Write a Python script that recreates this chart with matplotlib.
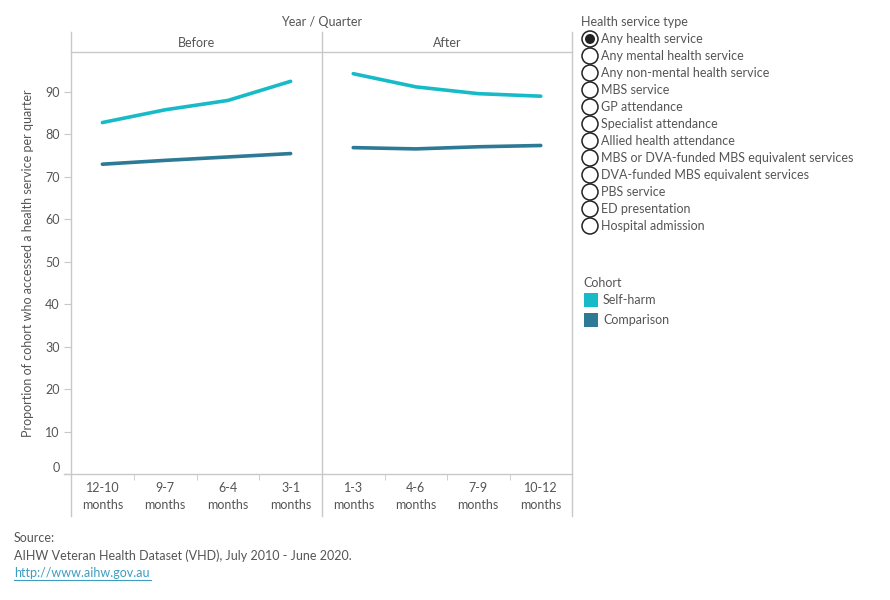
import matplotlib.pyplot as plt
from matplotlib.lines import Line2D
from matplotlib.patches import Ellipse, Rectangle

# data
periods = ["Before", "After"]
before_labels = ["12-10\nmonths", "9-7\nmonths", "6-4\nmonths", "3-1\nmonths"]
after_labels = ["1-3\nmonths", "4-6\nmonths", "7-9\nmonths", "10-12\nmonths"]
self_harm_before = [82.7, 85.7, 87.9, 92.4]
self_harm_after = [94.2, 91.1, 89.5, 88.9]
comparison_before = [72.9, 73.8, 74.6, 75.4]
comparison_after = [76.8, 76.5, 77.0, 77.3]
service_types = [
    "Any health service", "Any mental health service", "Any non-mental health service",
    "MBS service", "GP attendance", "Specialist attendance", "Allied health attendance",
    "MBS or DVA-funded MBS equivalent services", "DVA-funded MBS equivalent services",
    "PBS service", "ED presentation", "Hospital admission",
]
cohorts = ["Self-harm", "Comparison"]
yticks = list(range(0, 100, 10))

c_self = "#17BBC8"
c_comp = "#2D7A96"
c_text = "#555555"
c_grid = "#C8C8C8"

plt.rcParams["font.family"] = ["Lato", "DejaVu Sans"]

W, H = 890, 600
fig = plt.figure(figsize=(W / 100, H / 100), dpi=100)


def fx(x):
    return x / W


def fy(y):
    return 1 - y / H


def vline(x, y0, y1):
    fig.add_artist(Line2D([fx(x), fx(x)], [fy(y0), fy(y1)], color=c_grid, lw=1))


def hline(y, x0, x1, color=c_grid, lw=1):
    fig.add_artist(Line2D([fx(x0), fx(x1)], [fy(y), fy(y)], color=color, lw=lw))


left, mid, right = 71, 322, 572
top, bottom = 52, 474
panels = [
    (left, mid, before_labels, self_harm_before, comparison_before),
    (mid, right, after_labels, self_harm_after, comparison_after),
]

for i, (x0, x1, labels, sh, cp) in enumerate(panels):
    ax = fig.add_axes([fx(x0), fy(bottom), fx(x1 - x0), (bottom - top) / H])
    xs = range(len(labels))
    ax.plot(xs, sh, color=c_self, lw=2.6, solid_capstyle="round")
    ax.plot(xs, cp, color=c_comp, lw=2.6, solid_capstyle="round")
    ax.set_xlim(-0.5, len(labels) - 0.5)
    ax.set_ylim(0, 99.3)
    for s in ax.spines.values():
        s.set_visible(False)
    ax.set_xticks(list(xs))
    ax.set_xticklabels(labels, fontsize=9, color=c_text, linespacing=1.5)
    ax.tick_params(axis="x", length=0, pad=6)
    ax.set_xticks([k + 0.5 for k in range(len(labels) - 1)], minor=True)
    ax.tick_params(axis="x", which="minor", length=4, color=c_grid, direction="out")
    if i == 0:
        ax.set_yticks(yticks)
        ax.set_yticklabels([str(v) for v in yticks], fontsize=9, color=c_text)
        ax.tick_params(axis="y", length=5, color=c_grid, pad=3)
        ax.get_yticklabels()[0].set_va("bottom")
        ax.set_ylabel("Proportion of cohort who accessed a health service per quarter",
                      fontsize=9, color=c_text, labelpad=8)
    else:
        ax.set_yticks([])
    ax.patch.set_alpha(0)
    fig.text(fx((x0 + x1) / 2), fy(43), periods[i], ha="center", va="center",
             fontsize=9, color=c_text)

# pane borders
for x in (left, mid, right):
    vline(x, 32, 516)
hline(top, left, right)
hline(bottom, 64, right)

fig.text(fx((left + right) / 2), fy(22), "Year / Quarter", ha="center", va="center",
         fontsize=9, color=c_text)

# health service type legend (radio buttons)
fig.text(fx(581), fy(22), "Health service type", ha="left", va="center",
         fontsize=9, color=c_text)
for k, name in enumerate(service_types):
    y = 39 + k * 17
    fig.add_artist(Ellipse((fx(590), fy(y)), 16 / W, 16 / H, transform=fig.transFigure,
                           facecolor="white", edgecolor="#222222", lw=1.1))
    if k == 0:
        fig.add_artist(Ellipse((fx(590), fy(y)), 10 / W, 10 / H, transform=fig.transFigure,
                               facecolor="#222222", edgecolor="none"))
    fig.text(fx(601), fy(y), name, ha="left", va="center", fontsize=9, color=c_text)

# cohort legend
fig.text(fx(583), fy(283), "Cohort", ha="left", va="center", fontsize=9, color=c_text)
for k, (name, col) in enumerate(zip(cohorts, [c_self, c_comp])):
    y = 300 + k * 20
    fig.add_artist(Rectangle((fx(584), fy(y + 7)), 14 / W, 14 / H,
                             transform=fig.transFigure, facecolor=col, edgecolor="none"))
    fig.text(fx(603), fy(y), name, ha="left", va="center", fontsize=9, color=c_text)

# source notes
fig.text(fx(14), fy(538), "Source:", ha="left", va="center", fontsize=9, color=c_text)
fig.text(fx(14), fy(556), "AIHW Veteran Health Dataset (VHD), July 2010 - June 2020.",
         ha="left", va="center", fontsize=9, color=c_text)
fig.text(fx(14), fy(573), "http://www.aihw.gov.au", ha="left", va="center",
         fontsize=9, color="#3E9CC0")
hline(580, 14, 151, color="#3E9CC0", lw=0.8)

fig.savefig("out.png", dpi=100)
